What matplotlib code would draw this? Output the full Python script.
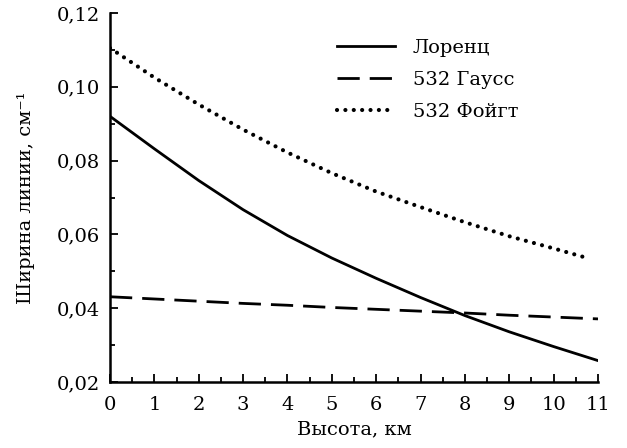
import matplotlib
matplotlib.use("Agg")
import matplotlib.pyplot as plt
from matplotlib.ticker import MultipleLocator, FuncFormatter

# Data
height_lor = [0, 1, 2, 3, 4, 5, 6, 7, 8, 9, 10, 11]
lorentz = [0.0920, 0.0832, 0.0746, 0.0667, 0.0597, 0.0536, 0.0481, 0.0429, 0.0380, 0.0336, 0.0296, 0.0258]

height_gauss = [0, 1, 2, 3, 4, 5, 6, 7, 8, 9, 10, 11]
gauss = [0.0431, 0.0425, 0.0419, 0.0413, 0.0408, 0.0402, 0.0397, 0.0392, 0.0387, 0.0381, 0.0376, 0.0371]

height_voigt = [0, 1, 2, 3, 4, 5, 6, 7, 8, 9, 10, 10.7]
voigt = [0.1105, 0.1025, 0.0952, 0.0884, 0.0822, 0.0766, 0.0716, 0.0674, 0.0633, 0.0595, 0.0562, 0.0538]

labels = ["Лоренц", "532 Гаусс", "532 Фойгт"]
x_label = "Высота, км"
y_label = "Ширина линии, см⁻¹"

plt.rcParams['font.family'] = ['DejaVu Serif']
FS = 14

fig = plt.figure(figsize=(6.27, 4.48), dpi=100)
ax = fig.add_axes([110/627, 1 - 382/448, 488/627, 369/448])

ax.plot(height_lor, lorentz, color='black', lw=2.0, label=labels[0])
ax.plot(height_gauss, gauss, color='black', lw=2.0, dashes=(8, 3.6), label=labels[1])
ax.plot(height_voigt, voigt, color='black', lw=3.0, dashes=(0.01, 2.0),
        dash_capstyle='round', label=labels[2])

ax.set_xlim(0, 11)
ax.set_ylim(0.02, 0.12)
ax.xaxis.set_major_locator(MultipleLocator(1))
ax.xaxis.set_minor_locator(MultipleLocator(0.5))
ax.yaxis.set_major_locator(MultipleLocator(0.02))
ax.yaxis.set_minor_locator(MultipleLocator(0.01))
ax.yaxis.set_major_formatter(FuncFormatter(lambda v, p: f"{v:.2f}".replace('.', ',')))

for s in ['top', 'right']:
    ax.spines[s].set_visible(False)
for s in ['left', 'bottom']:
    ax.spines[s].set_linewidth(1.8)

ax.tick_params(which='major', direction='in', length=6, width=1.3, labelsize=FS, pad=7)
ax.tick_params(axis='x', which='major', pad=10)
ax.tick_params(which='minor', direction='in', length=3.5, width=1.3)

ax.set_xlabel(x_label, fontsize=FS, labelpad=5)
ax.set_ylabel(y_label, fontsize=FS, labelpad=16)

leg = ax.legend(loc='upper left', bbox_to_anchor=(0.465, 0.93), frameon=False,
                fontsize=FS, handlelength=3.0, handletextpad=0.9,
                labelspacing=0.73, borderpad=0, borderaxespad=0)

fig.savefig("out.png", dpi=100)
